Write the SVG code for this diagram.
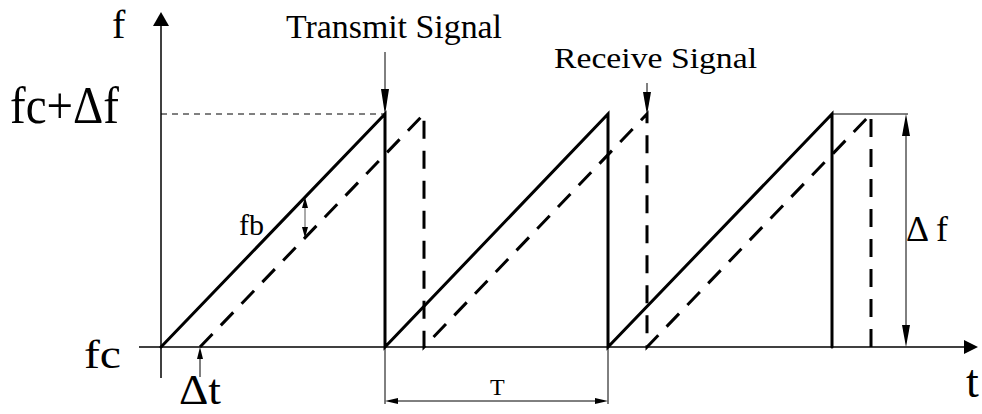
<svg xmlns="http://www.w3.org/2000/svg" width="982" height="414" viewBox="0 0 982 414">
<style>
.lbl{font-family:"Liberation Serif","Times New Roman",serif;fill:#000}
.axis{stroke:#000;stroke-width:1.5;fill:none}
.thin{stroke:#000;stroke-width:1;fill:none}
.tx{stroke:#000;stroke-width:3;fill:none;stroke-linecap:round}
.rx{stroke:#000;stroke-width:3;fill:none;stroke-dasharray:18 12}
.ah{fill:#000;stroke:none}
</style>
<rect width="982" height="414" fill="#fff"/>
<g id="axes">
  <line class="axis" x1="161" y1="378" x2="161" y2="22"/>
  <polygon class="ah" points="161,12 153,26 169,26"/>
  <line class="axis" x1="139" y1="347" x2="966" y2="347"/>
  <polygon class="ah" points="978,347 964,340 964,354"/>
  <line class="thin" x1="161" y1="114" x2="385" y2="114" stroke-dasharray="6 5"/>
</g>
<g id="transmit">
  <polyline class="tx" points="161,347 385,114 385,347 608,114 608,347 832,114 832,347"/>
</g>
<g id="receive">
  <polyline class="rx" points="200,347 424,114 424,347 647,114 647,347 871,114 871,347"/>
</g>
<g id="connectors">
  <line class="thin" x1="385" y1="52" x2="385" y2="92"/>
  <polygon class="ah" points="385,115 381,89 389,89"/>
  <line class="thin" x1="647" y1="83" x2="647" y2="94"/>
  <polygon class="ah" points="647,115 643,92 651,92"/>
  <line class="thin" x1="832" y1="114" x2="908" y2="114"/>
  <line class="thin" x1="906" y1="130" x2="906" y2="331"/>
  <polygon class="ah" points="906,114 902,136 910,136"/>
  <polygon class="ah" points="906,347 902,325 910,325"/>
  <line class="thin" x1="385" y1="347" x2="385" y2="404"/>
  <line class="thin" x1="608" y1="347" x2="608" y2="404"/>
  <line class="thin" x1="395" y1="401" x2="598" y2="401"/>
  <polygon class="ah" points="385,401 398,398 398,404"/>
  <polygon class="ah" points="608,401 595,398 595,404"/>
  <line class="thin" x1="200" y1="377" x2="200" y2="357"/>
  <polygon class="ah" points="200,347 197,359 203,359"/>
  <line stroke="#555" stroke-width="1" x1="305" y1="206" x2="305" y2="228"/>
  <polygon class="ah" points="305,197 302,208 308,208"/>
  <polygon class="ah" points="305,238 302,227 308,227"/>
</g>
<g id="labels">
  <text class="lbl" x="112" y="38" font-size="40">f</text>
  <text class="lbl" x="10" y="123" font-size="52" textLength="109" lengthAdjust="spacingAndGlyphs">fc+Δf</text>
  <text class="lbl" x="84" y="368" font-size="40" textLength="37" lengthAdjust="spacingAndGlyphs">fc</text>
  <text class="lbl" x="179" y="404" font-size="42" textLength="42" lengthAdjust="spacingAndGlyphs">Δt</text>
  <text class="lbl" x="286" y="38" font-size="34" textLength="216" lengthAdjust="spacingAndGlyphs">Transmit Signal</text>
  <text class="lbl" x="554" y="68" font-size="30" textLength="203" lengthAdjust="spacingAndGlyphs">Receive Signal</text>
  <text class="lbl" x="239" y="235" font-size="30">fb</text>
  <text class="lbl" x="490" y="395" font-size="24">T</text>
  <text class="lbl" x="906" y="241" font-size="36" textLength="42" lengthAdjust="spacingAndGlyphs">Δ f</text>
  <text class="lbl" x="966" y="397" font-size="46">t</text>
</g>
</svg>
